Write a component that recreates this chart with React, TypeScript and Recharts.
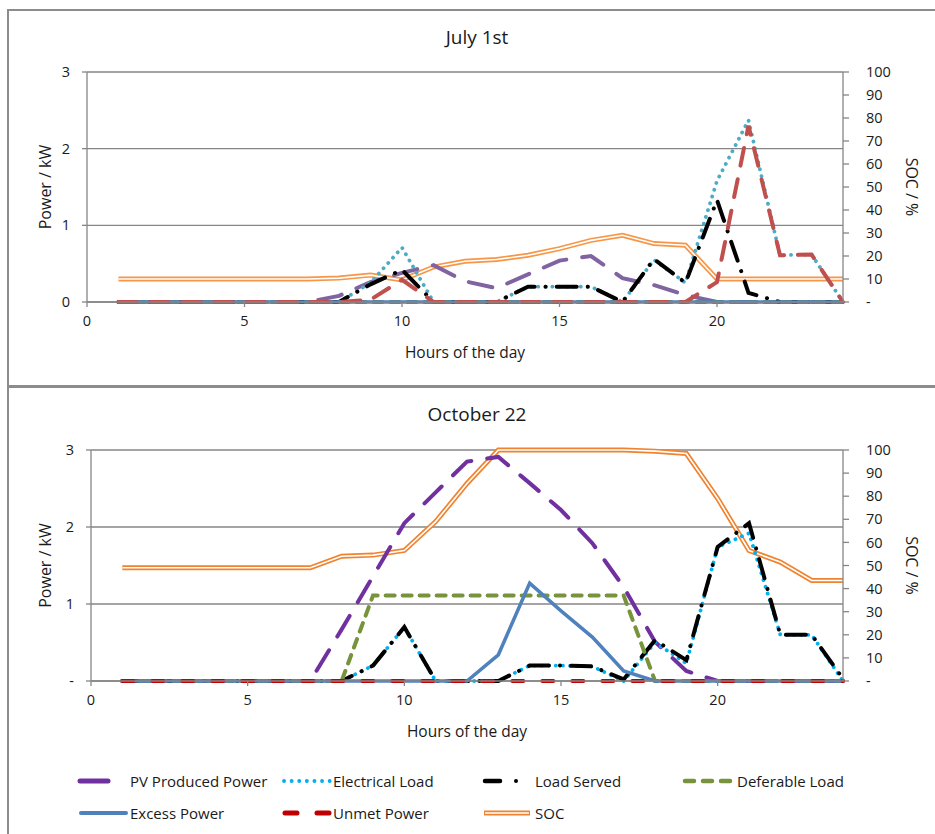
import React from 'react';
import { LineChart, Line, XAxis, YAxis, CartesianGrid } from 'recharts';

const FONT = '"Open Sans", sans-serif';
const GRID = '#868686';

const hours = [1, 2, 3, 4, 5, 6, 7, 8, 9, 10, 11, 12, 13, 14, 15, 16, 17, 18, 19, 20, 21, 22, 23, 24];
const xTicks = [0, 5, 10, 15, 20];
const powerTicks = [0, 1, 2, 3];
const socTicks = [0, 10, 20, 30, 40, 50, 60, 70, 80, 90, 100];

// July 1st
const julyPV = [0, 0, 0, 0, 0, 0, 0, 0.08, 0.26, 0.38, 0.48, 0.27, 0.18, 0.36, 0.54, 0.6, 0.31, 0.22, 0.09, 0, 0, 0, 0, 0];
const julyLoad = [0, 0, 0, 0, 0, 0, 0, 0, 0.25, 0.71, 0, 0, 0, 0.2, 0.2, 0.2, 0, 0.55, 0.25, 1.58, 2.37, 0.61, 0.62, 0];
const julyServed = [0, 0, 0, 0, 0, 0, 0, 0, 0.23, 0.42, 0, 0, 0, 0.2, 0.2, 0.2, 0, 0.56, 0.25, 1.33, 0.12, 0, 0, 0];
const julyDeferable = [0, 0, 0, 0, 0, 0, 0, 0, 0, 0, 0, 0, 0, 0, 0, 0, 0, 0, 0, 0, 0, 0, 0, 0];
const julyExcess = [0, 0, 0, 0, 0, 0, 0, 0, 0, 0, 0, 0, 0, 0, 0, 0, 0, 0, 0, 0, 0, 0, 0, 0];
const julyUnmet = [0, 0, 0, 0, 0, 0, 0, 0, 0.03, 0.29, 0, 0, 0, 0, 0, 0, 0, 0, 0, 0.26, 2.3, 0.61, 0.62, 0];
const julySOC = [10, 10, 10, 10, 10, 10, 10, 10.4, 11.7, 9.6, 15.2, 17.7, 18.5, 20.3, 23.2, 26.8, 29, 25.4, 24.7, 10, 10, 10, 10, 10];

// October 22
const octPV = [0, 0, 0, 0, 0, 0, 0, 0.67, 1.36, 2.05, 2.45, 2.85, 2.91, 2.57, 2.22, 1.79, 1.22, 0.51, 0.13, 0, 0, 0, 0, 0];
const octLoad = [0, 0, 0, 0, 0, 0, 0, 0, 0.2, 0.7, 0, 0, 0, 0.2, 0.2, 0.19, 0, 0.5, 0.23, 1.74, 1.92, 0.6, 0.6, 0];
const octServed = [0, 0, 0, 0, 0, 0, 0, 0, 0.2, 0.7, 0, 0, 0, 0.2, 0.2, 0.19, 0.02, 0.53, 0.27, 1.74, 2.05, 0.6, 0.6, 0.03];
const octDeferable = [0, 0, 0, 0, 0, 0, 0, 0, 1.11, 1.11, 1.11, 1.11, 1.11, 1.11, 1.11, 1.11, 1.11, 0, 0, 0, 0, 0, 0, 0];
const octExcess = [0, 0, 0, 0, 0, 0, 0, 0, 0, 0, 0, 0, 0.34, 1.27, 0.91, 0.57, 0.13, 0, 0, 0, 0, 0, 0, 0];
const octUnmet = [0, 0, 0, 0, 0, 0, 0, 0, 0, 0, 0, 0, 0, 0, 0, 0, 0, 0, 0, 0, 0, 0, 0, 0];
const octSOC = [49, 49, 49, 49, 49, 49, 49, 54, 54.5, 56.5, 69, 85.5, 100, 100, 100, 100, 100, 99.5, 98.5, 79, 56.5, 51.5, 43.5, 43.5];

function buildRows(pv: number[], load: number[], served: number[], def: number[], excess: number[], unmet: number[], soc: number[]) {
  return hours.map((h, i) => ({
    hour: h,
    pv: pv[i],
    load: load[i],
    served: served[i],
    def: def[i],
    excess: excess[i],
    unmet: unmet[i],
    soc: soc[i],
  }));
}

const julyRows = buildRows(julyPV, julyLoad, julyServed, julyDeferable, julyExcess, julyUnmet, julySOC);
const octRows = buildRows(octPV, octLoad, octServed, octDeferable, octExcess, octUnmet, octSOC);

const julyStyle = {
  pv: '#8064A2', load: '#4BACC6', unmet: '#C0504D', soc: '#F79646', unmetDash: '18 14', zeroLabel: '0',
};
const octStyle = {
  pv: '#7030A0', load: '#00B0F0', unmet: '#C00000', soc: '#F0832F', unmetDash: '11 19', zeroLabel: '-',
};

const tickStyle = { fill: '#1a1a1a', fontSize: 14.5, fontFamily: FONT };

interface DayChartProps {
  rows: any[];
  style: typeof julyStyle;
  height: number;
  margin: { top: number; right: number; bottom: number; left: number };
  xAxisHeight: number;
}

function DayChart({ rows, style, height, margin, xAxisHeight }: DayChartProps) {
  return (
    <LineChart width={935} height={height} data={rows} margin={margin}>
      <CartesianGrid yAxisId="p" vertical={false} stroke={GRID} strokeWidth={1.3} />
      <XAxis
        dataKey="hour"
        type="number"
        domain={[0, 24]}
        ticks={xTicks}
        interval={0}
        height={xAxisHeight}
        stroke={GRID}
        strokeWidth={1.3}
        tickSize={5}
        tickMargin={9}
        tick={tickStyle}
        label={(p: any) => (
          <text
            x={p.viewBox.x + p.viewBox.width / 2}
            y={p.viewBox.y + 56}
            textAnchor="middle"
            fontFamily={FONT}
            fontSize={15.5}
            fill="#1a1a1a"
          >
            Hours of the day
          </text>
        )}
      />
      <YAxis
        yAxisId="p"
        domain={[0, 3]}
        ticks={powerTicks}
        interval={0}
        width={60}
        stroke={GRID}
        strokeWidth={1.3}
        tickSize={5}
        tickMargin={12}
        tick={tickStyle}
        tickFormatter={(v: number) => (v === 0 ? style.zeroLabel : String(v))}
        label={(p: any) => {
          const cy = p.viewBox.y + p.viewBox.height / 2;
          return (
            <text x={45} y={cy} transform={`rotate(-90 45 ${cy})`} textAnchor="middle" dominantBaseline="central"
              fontFamily={FONT} fontSize={16} fill="#1a1a1a">
              Power / kW
            </text>
          );
        }}
      />
      <YAxis
        yAxisId="s"
        orientation="right"
        domain={[0, 100]}
        ticks={socTicks}
        interval={0}
        width={80}
        stroke={GRID}
        strokeWidth={1.3}
        tickSize={6}
        tickMargin={17}
        tick={tickStyle}
        tickFormatter={(v: number) => (v === 0 ? '-' : String(v))}
        label={(p: any) => {
          const cy = p.viewBox.y + p.viewBox.height / 2;
          return (
            <text x={912} y={cy} transform={`rotate(90 912 ${cy})`} textAnchor="middle" dominantBaseline="central"
              fontFamily={FONT} fontSize={16} fill="#1a1a1a">
              SOC / %
            </text>
          );
        }}
      />
      <Line yAxisId="s" dataKey="soc" type="linear" stroke={style.soc} strokeWidth={5} dot={false} isAnimationActive={false} />
      <Line yAxisId="s" dataKey="soc" type="linear" stroke="#ffffff" strokeWidth={1.6} dot={false} isAnimationActive={false} />
      <Line yAxisId="p" dataKey="pv" type="linear" stroke={style.pv} strokeWidth={4} strokeDasharray="24 16" strokeLinecap="round" dot={false} isAnimationActive={false} />
      <Line yAxisId="p" dataKey="load" type="linear" stroke={style.load} strokeWidth={3.8} strokeDasharray="0.1 7" strokeLinecap="round" dot={false} isAnimationActive={false} />
      <Line yAxisId="p" dataKey="served" type="linear" stroke="#000000" strokeWidth={4} strokeDasharray="20 11 0.1 11" strokeLinecap="round" dot={false} isAnimationActive={false} />
      <Line yAxisId="p" dataKey="def" type="linear" stroke="#77933C" strokeWidth={4} strokeDasharray="9 8" strokeLinecap="round" dot={false} isAnimationActive={false} />
      <Line yAxisId="p" dataKey="excess" type="linear" stroke="#4F81BD" strokeWidth={3.5} dot={false} isAnimationActive={false} />
      <Line yAxisId="p" dataKey="unmet" type="linear" stroke={style.unmet} strokeWidth={4} strokeDasharray={style.unmetDash} strokeLinecap="round" dot={false} isAnimationActive={false} />
    </LineChart>
  );
}

function ChartLegend() {
  const txt = { fontFamily: FONT, fontSize: 15, fill: '#1a1a1a' };
  const r1 = 21;
  const r2 = 53;
  return (
    <svg width={935} height={74} style={{ position: 'absolute', left: 0, top: 760 }}>
      <line x1={80} y1={r1} x2={108} y2={r1} stroke="#7030A0" strokeWidth={5} strokeLinecap="round" />
      <text x={130} y={r1} dominantBaseline="central" {...txt}>PV Produced Power</text>
      <line x1={284} y1={r1} x2={330} y2={r1} stroke="#00B0F0" strokeWidth={3.8} strokeDasharray="0.1 7.5" strokeLinecap="round" />
      <text x={333} y={r1} dominantBaseline="central" {...txt}>Electrical Load</text>
      <line x1={485} y1={r1} x2={500} y2={r1} stroke="#000" strokeWidth={4.5} strokeLinecap="round" />
      <circle cx={516} cy={r1} r={2} fill="#000" />
      <text x={535} y={r1} dominantBaseline="central" {...txt}>Load Served</text>
      <line x1={685} y1={r1} x2={730} y2={r1} stroke="#77933C" strokeWidth={4.5} strokeDasharray="9 9" strokeLinecap="round" />
      <text x={737} y={r1} dominantBaseline="central" {...txt}>Deferable Load</text>
      <line x1={81} y1={r2} x2={126} y2={r2} stroke="#4F81BD" strokeWidth={4} strokeLinecap="round" />
      <text x={130} y={r2} dominantBaseline="central" {...txt}>Excess Power</text>
      <line x1={285} y1={r2} x2={330} y2={r2} stroke="#C00000" strokeWidth={5} strokeDasharray="12 20" strokeLinecap="round" />
      <text x={333} y={r2} dominantBaseline="central" {...txt}>Unmet Power</text>
      <line x1={484} y1={r2} x2={530} y2={r2} stroke="#F0832F" strokeWidth={5} />
      <line x1={485} y1={r2} x2={529} y2={r2} stroke="#fff" strokeWidth={1.6} />
      <text x={535} y={r2} dominantBaseline="central" {...txt}>SOC</text>
    </svg>
  );
}

const titleStyle: React.CSSProperties = {
  position: 'absolute', left: 377, width: 200, textAlign: 'center', fontFamily: FONT, fontSize: 19, lineHeight: '22px', color: '#1a1a1a',
};

export default function App() {
  return (
    <div style={{ position: 'absolute', left: 0, top: 0, width: 935, height: 834, overflow: 'hidden', background: '#fff' }}>
      <div style={{ position: 'absolute', left: 7, top: 9, width: 940, height: 379, boxSizing: 'border-box', borderTop: '2px solid #8c8c8c', borderLeft: '2px solid #8c8c8c', borderBottom: '3px solid #8c8c8c' }} />
      <div style={{ position: 'absolute', left: 7, top: 388, width: 940, height: 460, boxSizing: 'border-box', borderLeft: '2px solid #8c8c8c' }} />
      <div style={{ ...titleStyle, top: 26 }}>July 1st</div>
      <div style={{ ...titleStyle, top: 403 }}>October 22</div>
      <div style={{ position: 'absolute', left: 0, top: 0 }}>
        <DayChart rows={julyRows} style={julyStyle} height={385} margin={{ top: 72, right: 12, bottom: 0, left: 27 }} xAxisHeight={83} />
      </div>
      <div style={{ position: 'absolute', left: 0, top: 388 }}>
        <DayChart rows={octRows} style={octStyle} height={360} margin={{ top: 62, right: 12, bottom: 0, left: 31 }} xAxisHeight={67} />
      </div>
      <ChartLegend />
    </div>
  );
}
